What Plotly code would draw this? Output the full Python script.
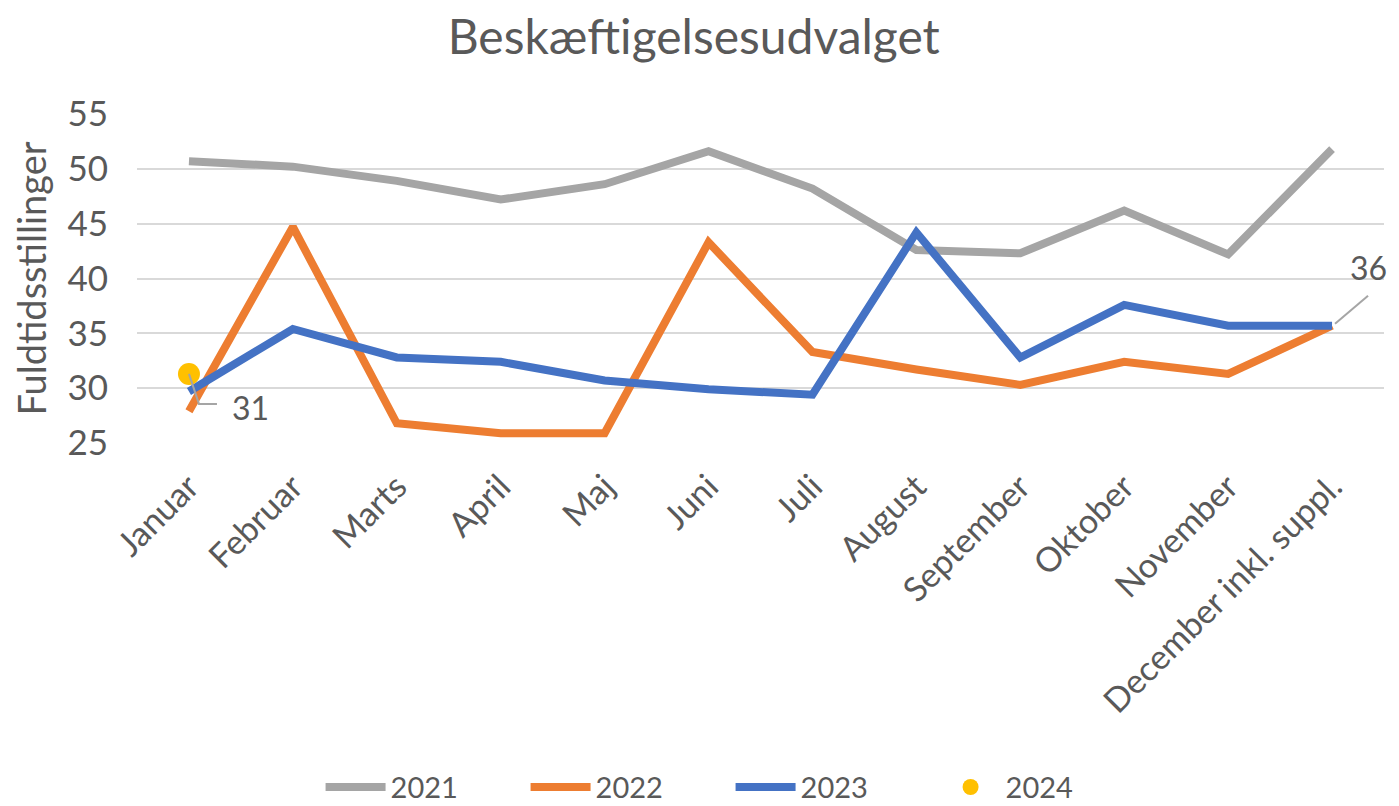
import plotly.graph_objects as go

months = ["Januar", "Februar", "Marts", "April", "Maj", "Juni", "Juli", "August",
          "September", "Oktober", "November", "December inkl. suppl."]
v2021 = [50.7, 50.2, 48.9, 47.2, 48.6, 51.6, 48.2, 42.6, 42.3, 46.2, 42.2, 51.8]
v2022 = [27.9, 44.7, 26.8, 25.9, 25.9, 43.3, 33.3, 31.7, 30.3, 32.4, 31.3, 35.7]
v2023 = [29.7, 35.4, 32.8, 32.4, 30.7, 29.9, 29.4, 44.2, 32.8, 37.6, 35.7, 35.7]
v2024 = [31.3]

FONT = "Lato"
GREY = "#595959"

fig = go.Figure()
fig.add_trace(go.Scatter(x=months, y=v2021, mode="lines", name="2021",
                         line=dict(color="#a5a5a5", width=8)))
fig.add_trace(go.Scatter(x=months, y=v2022, mode="lines", name="2022",
                         line=dict(color="#ed7d31", width=8)))
fig.add_trace(go.Scatter(x=months, y=v2023, mode="lines", name="2023",
                         line=dict(color="#4472c4", width=8)))
fig.add_trace(go.Scatter(x=months[:1], y=v2024, mode="markers", name="2024",
                         marker=dict(color="#ffc000", size=22)))

# leader lines for data labels
fig.add_shape(type="path", xref="x", yref="y", xsizemode="pixel", ysizemode="pixel",
              xanchor=0, yanchor=v2024[0], path="M0,0 L10,-30 L28,-30",
              line=dict(color="#a5a5a5", width=2))
fig.add_shape(type="path", xref="x", yref="y", xsizemode="pixel", ysizemode="pixel",
              xanchor=11, yanchor=v2023[-1], path="M3,2 L36,30",
              line=dict(color="#a5a5a5", width=2))
fig.add_annotation(x=0, y=v2024[0], text=str(round(v2024[0])), showarrow=False,
                   xshift=62, yshift=-34, font=dict(family=FONT, size=32, color=GREY))
fig.add_annotation(x=11, y=v2023[-1], text=str(round(v2023[-1])), showarrow=False,
                   xshift=36, yshift=58, font=dict(family=FONT, size=32, color=GREY))

# The page body has an 8px default margin, so the figure is sized and offset to match.
fig.update_layout(
    width=1391, height=798,
    paper_bgcolor="white", plot_bgcolor="white",
    margin=dict(l=129, r=15, t=106, b=363, autoexpand=False),
    title=dict(text="Beskæftigelsesudvalget", x=0.493, xanchor="center", y=0.963, yanchor="middle",
               font=dict(family=FONT, size=48, color=GREY)),
    font=dict(family=FONT, size=32, color=GREY),
    showlegend=True,
    legend=dict(orientation="h", x=0.476, xanchor="center", y=-1.046, yanchor="middle",
                font=dict(family=FONT, size=29, color=GREY), itemwidth=60,
                entrywidth=130, entrywidthmode="pixels",
                traceorder="normal"),
)
fig.update_xaxes(type="category", range=[-0.5, 11.5], tickangle=-45, showgrid=False,
                 showline=False, automargin=False,
                 zeroline=False, ticks="", ticklabelstandoff=16,
                 tickfont=dict(family=FONT, size=34, color=GREY))
fig.update_yaxes(range=[25, 55], dtick=5, tick0=25, showgrid=True, gridcolor="#d9d9d9",
                 gridwidth=2, zeroline=False, showline=False, ticks="", automargin=False,
                 ticklabelstandoff=28,
                 tickfont=dict(family=FONT, size=35, color=GREY),
                 title=dict(text="Fuldtidsstillinger", standoff=20,
                            font=dict(family=FONT, size=38, color=GREY)))

fig.write_html("out.html")
